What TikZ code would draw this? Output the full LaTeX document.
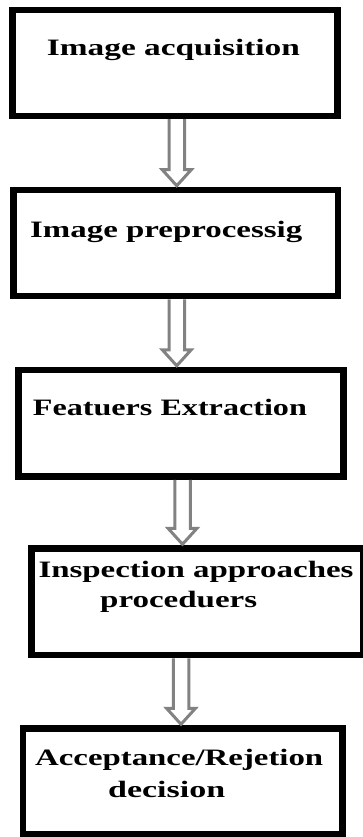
\documentclass[tikz,border=0pt]{standalone}
\usepackage{fontspec}
\setmainfont{Liberation Serif}
\usetikzlibrary{calc}
\definecolor{arrgray}{RGB}{130,130,130}
\newcommand\wtext[2]{\resizebox{#1pt}{\height}{#2}}
\newcommand\hollowarr[3]{%
  \draw[harrow] ($(#1 |- #2.south)+(-7.75,0)$)
    -- ($(#1 |- #3.north)+(-7.75,-17)$)
    -- ($(#1 |- #3.north)+(-14.5,-17)$)
    -- ($(#1 |- #3.north)+(0,-1)$)
    -- ($(#1 |- #3.north)+(14.5,-17)$)
    -- ($(#1 |- #3.north)+(7.75,-17)$)
    -- ($(#1 |- #2.south)+(7.75,0)$);}
\begin{document}
\begin{tikzpicture}[x=1pt,y=-1pt,
  box/.style={draw,line width=6.5pt,inner sep=0pt},
  txt/.style={inner sep=0pt,anchor=base west,font=\fontsize{23.5}{26}\selectfont\bfseries},
  harrow/.style={draw=arrgray,line width=3pt}]
\useasboundingbox (0,0) rectangle (363,837);
% boxes
\node[box,minimum width=325pt,minimum height=106pt] (b1) at (175,63) {};
\node[box,minimum width=324.5pt,minimum height=106pt] (b2) at (175.75,243) {};
\node[box,minimum width=325pt,minimum height=106.5pt] (b3) at (181,423.25) {};
\node[box,minimum width=331.5pt,minimum height=106.5pt] (b4) at (197.25,601.75) {};
\node[box,minimum width=319.5pt,minimum height=105.5pt] (b5) at (182.75,781.25) {};
% texts
\node[txt] (t1) at (46.7,55.5) {\wtext{253}{Image acquisition}};
\node[txt] (t2) at (30,237.5) {\wtext{272}{Image preprocessig}};
\node[txt] (t3) at (32.7,415.5) {\wtext{274}{Featuers Extraction}};
\node[txt] (t4a) at (38.3,577.5) {\wtext{315}{Inspection approaches}};
\node[txt] (t4b) at (100,607) {\wtext{157}{proceduers}};
\node[txt] (t5a) at (35,765.5) {\wtext{288}{Acceptance/Rejetion}};
\node[txt] (t5b) at (108,797) {\wtext{117}{decision}};
% arrow axes
\coordinate (x1) at (176.75,0);
\coordinate (x2) at (176.75,0);
\coordinate (x3) at (182.5,0);
\coordinate (x4) at (181,0);
\hollowarr{x1}{b1}{b2}
\hollowarr{x2}{b2}{b3}
\hollowarr{x3}{b3}{b4}
\hollowarr{x4}{b4}{b5}
\end{tikzpicture}
\end{document}
